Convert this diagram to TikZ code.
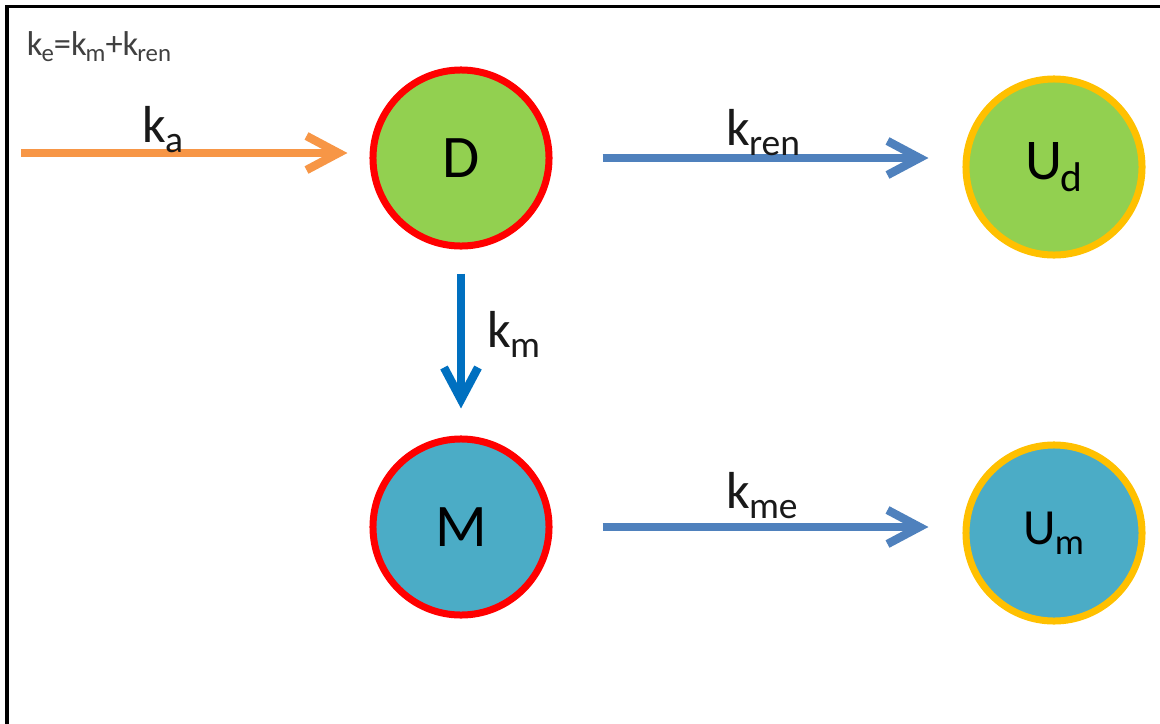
\documentclass[tikz,border=0pt]{standalone}
\usepackage{fontspec}
\setmainfont{Carlito}
\usetikzlibrary{arrows.meta}
\definecolor{leafgreen}{HTML}{92D050}
\definecolor{aqua}{HTML}{4BACC6}
\definecolor{ringgold}{HTML}{FFC000}
\definecolor{inorange}{HTML}{F79646}
\definecolor{steelblue}{HTML}{4F81BD}
\definecolor{deepblue}{HTML}{0070C0}
\newcommand\lowsub[1]{\kern-0.03em\raisebox{-0.2em}{\scalebox{0.72}{#1}}}
\begin{document}
\begin{tikzpicture}[x=0.025cm, y=-0.025cm,
    pool/.style={circle, minimum size=4.4cm, line width=0.175cm, inner sep=0pt},
    rate/.style={line width=0.21cm, -{Straight Barb[length=0.8cm, width=0.85cm]}},
    klabel/.style={anchor=base west, text=black!90, font=\fontsize{37}{44}\selectfont}]
        \useasboundingbox (0,0) rectangle (1160,724);
        \draw[line width=0.075cm] (7,724) -- (7,6.5) -- (1160,6.5);
        \node[anchor=base west, text=black!75, font=\fontsize{24.5}{29}\selectfont] (ke) at (22,55)
            {k\lowsub{e}=k\lowsub{m}+k\lowsub{ren}};
        % compartments
        \node[pool, draw=red, fill=leafgreen, font=\fontsize{43}{50}\selectfont] (D) at (461,158) {D};
        \node[pool, draw=ringgold, fill=leafgreen, font=\fontsize{41}{48}\selectfont] (Ud) at (1054,167) {U\lowsub{d}};
        \node[pool, draw=red, fill=aqua, font=\fontsize{43}{50}\selectfont] (M) at (461,527) {M};
        \node[pool, draw=ringgold, fill=aqua, font=\fontsize{36}{43}\selectfont] (Um) at (1054,533) {U\lowsub{m}};
        % rates
        \coordinate (dose) at (21,153);
        \draw[rate, draw=inorange, shorten >=0.55cm] (dose) -- (dose -| D.west);
        \draw[rate, draw=steelblue, shorten <=1.25cm, shorten >=0.85cm] (D.east) -- (D.east -| Ud.west);
        \draw[rate, draw=deepblue, shorten <=0.6cm, shorten >=0.675cm] (D.south) -- (M.north);
        \draw[rate, draw=steelblue, shorten <=1.25cm, shorten >=0.85cm] (M.east) -- (M.east -| Um.west);
        \node[klabel] (ka) at (138,142) {k\lowsub{a}};
        \node[klabel] (kren) at (722,145) {k\lowsub{ren}};
        \node[klabel] (km) at (483,347) {k\lowsub{m}};
        \node[klabel] (kme) at (722,508) {k\lowsub{me}};
\end{tikzpicture}
\end{document}
